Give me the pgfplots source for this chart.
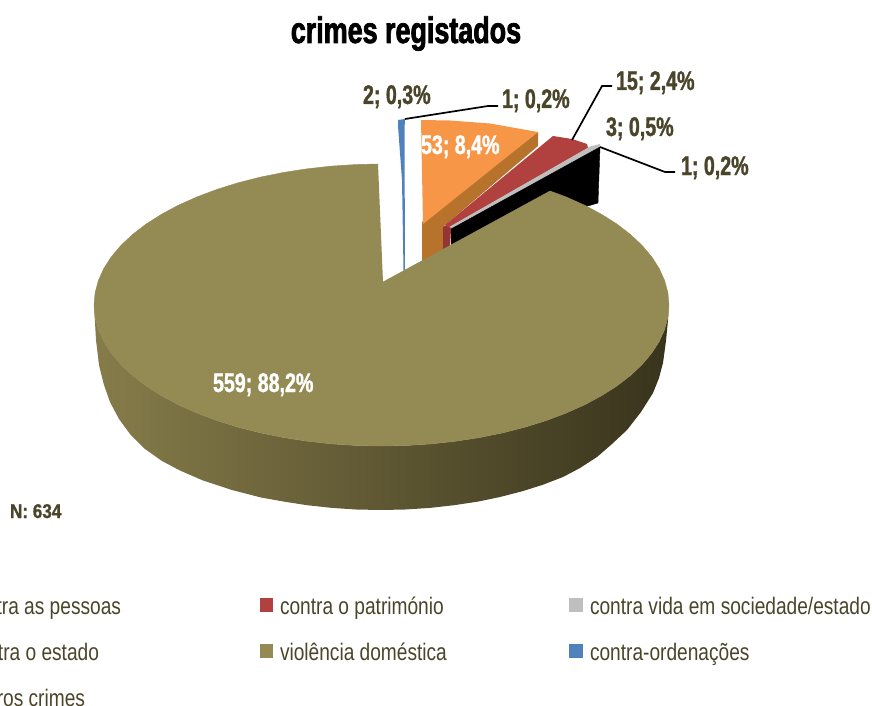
\documentclass[border=0pt]{standalone}
\usepackage{pgfplots}
\usepackage{fontspec}
\pgfplotsset{compat=1.18}
\setmainfont{Liberation Sans}
\newfontfamily\af{Liberation Sans}[FakeStretch=0.80]
\newfontfamily\afb{Liberation Sans}[FakeStretch=0.73,BoldFeatures={FakeBold=1.2}]
\newfontfamily\aft{Liberation Sans}[FakeStretch=0.73,BoldFeatures={FakeBold=2}]
\newfontfamily\afn{Liberation Sans}[FakeStretch=0.86,BoldFeatures={FakeBold=1}]
\definecolor{txt}{HTML}{4A452A}
\definecolor{olive}{HTML}{948A54}
\definecolor{orangeT}{HTML}{F79646}
\definecolor{orangeS}{HTML}{B7732C}
\definecolor{redT}{HTML}{B0413E}
\definecolor{redS}{HTML}{953634}
\definecolor{grayT}{HTML}{BFBFBF}
\definecolor{blueT}{HTML}{4F81BD}
\definecolor{sideL}{HTML}{867C4A}
\definecolor{sideM}{HTML}{4F4A2A}
\definecolor{sideR}{HTML}{38331C}
\tikzset{lab/.style={inner sep=0pt,outer sep=0pt,anchor=base west,text=txt,font=\afb\bfseries\fontsize{27}{27}\selectfont},
 leg/.style={inner sep=0pt,outer sep=0pt,anchor=base west,text=txt,font=\af\fontsize{24}{24}\selectfont}}
\begin{document}
\begin{tikzpicture}
\useasboundingbox (0,0) rectangle (872bp,706bp);
\begin{axis}[at={(0,0)},anchor=south west,scale only axis,width=872bp,height=706bp,
  xmin=0,xmax=872,ymin=0,ymax=706,y dir=reverse,hide axis,clip=false]
% side of the large slice
\addplot[draw=none,left color=sideL,middle color=sideM,right color=sideR,forget plot] coordinates {
(669,305)(667.9,317.3)(664.6,329.5)(659.2,341.5)(651.7,353.2)(642.1,364.6)(630.5,375.5)(617,385.9)(601.7,395.6)(584.8,404.7)(566.3,413)(546.4,420.5)(525.3,427.1)(503,432.8)(479.8,437.5)(455.9,441.2)(431.4,443.9)(406.6,445.5)(381.5,446)(356.4,445.5)(331.6,443.9)(307.1,441.2)(283.2,437.5)(260,432.8)(237.7,427.1)(216.6,420.5)(196.7,413)(178.2,404.7)(161.3,395.6)(146,385.9)(132.5,375.5)(120.9,364.6)(111.3,353.2)(103.8,341.5)(98.4,329.5)(95.1,317.3)(94,305)
(96,340)(99,365)(104,385)(110,402)(119,419)(130,434)(145,449)(162,461)(180,470.5)(203,480.5)(232,490)(261,497.5)(284,501.6)(307,505.2)(332,507.9)(356,509.5)(381,510)(405,509.5)(430,507.9)(454,505.2)(478,501.6)(500,497)(522.5,491.2)(543,484.7)(563,477)(580,468)(597,457)(612,444)(627,430)(641,412)(653,393)(659,378)(663,363)(666,341)(668,320)};
% orange slice
\addplot[fill=orangeS,draw=none,forget plot] coordinates {(538,132)(538,146)(444,226)(443,256)(422,262)(422,222)};
\addplot[fill=orangeT,draw=none,forget plot] coordinates {(421,120)(450,120.5)(490,123.5)(538,132)(423,224)};
% red slice
\addplot[fill=redS,draw=none,forget plot] coordinates {(443,227)(587,144)(451,229)(450,248)(443,252)};
\addplot[fill=redT,draw=none,forget plot] coordinates {(445,225)(553,136)(572,139)(587,144)(588,148)(450,228)};
% grey slice
\addplot[fill=grayT,draw=none,forget plot] coordinates {(450,226.5)(590,146.5)(600,144)(600,147)(451,229)};
% black slice
\addplot[fill=black,draw=black,forget plot] coordinates {(451,229)(600,147)(598,203)(451,246)};
% blue slice
\addplot[fill=blueT,draw=none,forget plot] coordinates {(398,120)(405,119)(404.5,130)(405,270)(403.5,270)(402,180)(398,126)};
% top of the large slice
\addplot[fill=olive,draw=olive,forget plot] coordinates {
(383,282)(550,191)(566.3,197)(584.8,205.3)(601.7,214.4)(617,224.1)(630.5,234.5)(642.1,245.4)(651.7,256.8)(659.2,268.5)(664.6,280.5)(667.9,292.7)(669,305)(667.9,317.3)(664.6,329.5)(659.2,341.5)(651.7,353.2)(642.1,364.6)(630.5,375.5)(617,385.9)(601.7,395.6)(584.8,404.7)(566.3,413)(546.4,420.5)(525.3,427.1)(503,432.8)(479.8,437.5)(455.9,441.2)(431.4,443.9)(406.6,445.5)(381.5,446)(356.4,445.5)(331.6,443.9)(307.1,441.2)(283.2,437.5)(260,432.8)(237.7,427.1)(216.6,420.5)(196.7,413)(178.2,404.7)(161.3,395.6)(146,385.9)(132.5,375.5)(120.9,364.6)(111.3,353.2)(103.8,341.5)(98.4,329.5)(95.1,317.3)(94,305)(95.1,292.7)(98.4,280.5)(103.8,268.5)(111.3,256.8)(120.9,245.4)(132.5,234.5)(146,224.1)(161.3,214.4)(178.2,205.3)(196.7,197)(216.6,189.5)(237.7,182.9)(260,177.2)(283.2,172.5)(307.1,168.8)(331.6,166.1)(356.4,164.5)(378,164)};
% leader lines
\addplot[black,line width=1.7bp,forget plot] coordinates {(405,119)(488,106)(498,106)};
\addplot[black,line width=1.7bp,forget plot] coordinates {(572,140)(602,86)(612,86)};
\addplot[black,line width=1.7bp,forget plot] coordinates {(600,147)(665,172)(675,172)};
% legend keys
\addplot[fill=redT,draw=none,forget plot] coordinates {(260,598)(273,598)(273,612)(260,612)};
\addplot[fill=grayT,draw=none,forget plot] coordinates {(569,598)(583,598)(583,612)(569,612)};
\addplot[fill=olive,draw=none,forget plot] coordinates {(260,644)(273,644)(273,658)(260,658)};
\addplot[fill=blueT,draw=none,forget plot] coordinates {(569,644)(583,644)(583,658)(569,658)};
% texts
\node[inner sep=0pt,anchor=base,text=black,font=\aft\bfseries\fontsize{37}{37}\selectfont] at (axis cs:406,43) {crimes registados};
\node[lab] at (axis cs:363,104) {2; 0,3\%};
\node[lab] at (axis cs:502,108) {1; 0,2\%};
\node[lab,text=white] at (axis cs:421,154) {53; 8,4\%};
\node[lab] at (axis cs:616,90) {15; 2,4\%};
\node[lab] at (axis cs:606,136) {3; 0,5\%};
\node[lab] at (axis cs:681,175) {1; 0,2\%};
\node[lab,text=white] at (axis cs:213,392) {559; 88,2\%};
\node[lab,font=\afn\bfseries\fontsize{20}{20}\selectfont] at (axis cs:10,518) {N: 634};
\node[leg,anchor=base east] at (axis cs:121,614) {contra as pessoas};
\node[leg,anchor=base east] at (axis cs:99,660) {contra o estado};
\node[leg,anchor=base east] at (axis cs:85,706) {outros crimes};
\node[leg] at (axis cs:280,614) {contra o património};
\node[leg] at (axis cs:280,660) {violência doméstica};
\node[leg] at (axis cs:590,614) {contra vida em sociedade/estado};
\node[leg] at (axis cs:590,660) {contra-ordenações};
\end{axis}
\end{tikzpicture}
\end{document}
